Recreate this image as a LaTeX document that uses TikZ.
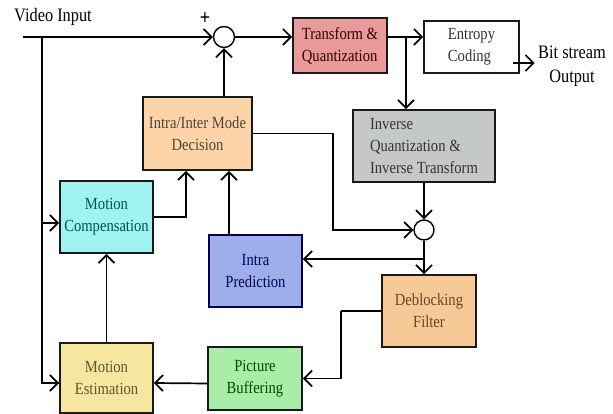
\documentclass[tikz,border=0pt]{standalone}
\usepackage{fontspec}
\setmainfont{Liberation Serif}[FakeStretch=0.86]
\usetikzlibrary{arrows.meta}

\definecolor{tqfill}{HTML}{E99A9B}
\definecolor{iqfill}{HTML}{C4C8C8}
\definecolor{mdtop}{HTML}{FDD4A8}
\definecolor{mdmid}{HTML}{FFF7C6}
\definecolor{mcfill}{HTML}{A0F2F0}
\definecolor{ipfill}{HTML}{9DAEEA}
\definecolor{dffill}{HTML}{F6C996}
\definecolor{pbfill}{HTML}{A8EEA8}
\definecolor{mefill}{HTML}{F6E6A0}

\begin{document}
\begin{tikzpicture}[x=1pt, y=-1pt,
    blk/.style={draw=black!90, line width=1.7pt, rectangle, align=center,
        font=\fontsize{17}{22}\selectfont, inner sep=2pt},
    arr/.style={line width=1.7pt, -{Straight Barb[length=8pt,width=16pt]}},
    ln/.style={line width=1.7pt},
    sumc/.style={draw, circle, line width=1.4pt, minimum size=21pt, inner sep=0pt, fill=white},
    lbl/.style={font=\fontsize{19}{24}\selectfont, align=center}]

\useasboundingbox (0,0) rectangle (613,414);

    % blocks
    \node[blk, fill=tqfill, text=black!60!red!50!black, align=left, minimum width=94pt, minimum height=55pt] (tq) at (340,45.5) {Transform \&\\Quantization};
    \node[blk, fill=white, text=black!80, align=left, minimum width=95pt, minimum height=52pt] (ec) at (471.5,47) {Entropy\\Coding};
    \node[blk, fill=iqfill, text=black!80, align=left, minimum width=142pt, minimum height=72pt] (iq) at (424,146) {Inverse\\Quantization \&\\Inverse Transform};
    \node[blk, top color=mdtop, middle color=mdmid, bottom color=mdtop, text=black!60!yellow!45!black, minimum width=109pt, minimum height=73pt] (md) at (197.5,133.5) {Intra/Inter Mode\\Decision};
    \node[blk, fill=mcfill, text=teal!65!black, minimum width=93pt, minimum height=72pt] (mc) at (106.5,217) {Motion\\Compensation};
    \node[blk, fill=ipfill, draw=blue!30!black, text=blue!35!black, minimum width=93pt, minimum height=72pt] (ip) at (255.5,271) {Intra\\Prediction};
    \node[blk, fill=dffill, text=brown!55!black, minimum width=94pt, minimum height=72pt] (df) at (429,311) {Deblocking\\Filter};
    \node[blk, fill=pbfill, text=green!30!black, minimum width=94pt, minimum height=63pt] (pb) at (255,378.5) {Picture\\Buffering};
    \node[blk, fill=mefill, text=olive!55!black, minimum width=93pt, minimum height=70pt] (me) at (106.5,378) {Motion\\Estimation};

    % adders
    \node[sumc] (sum1) at (224,37) {};
    \node[sumc, minimum size=20pt] (sum2) at (424,230) {};
    \node[font=\bfseries\fontsize{21}{21}\selectfont] (plus) at (205,19) {+};

    % labels
    \node[lbl] (vin) at (53,17) {Video Input};
    \node[lbl] (bitout) at (572,66) {Bit stream\\Output};

    % points
    \coordinate (in) at (23,37);
    \coordinate (split) at (42,37);
    \coordinate (br) at (406,37);
    \coordinate (br2) at (424,259);
    \coordinate (ecout) at (513,63);
    \coordinate (mdr) at (333,133.5);

    % forward path
    \draw[arr] (in) -- (sum1.west);
    \draw[arr] (sum1.east) -- (sum1 -| tq.west);
    \draw[arr] (tq.east |- sum1) -- (ec.west |- sum1);
    \draw[arr] (br) -- (br |- iq.north);
    \draw[arr] (ecout) -- (ecout -| bitout.west);

    % reconstruction
    \draw[arr] (iq.south) -- (sum2.north);
    \draw[arr] (sum2.south) -- (sum2 |- df.north);
    \draw[arr] (br2) -- (br2 -| ip.east);
    \draw[ln] (df.west) -- ++(-40,0) coordinate (dfl);
    \draw[arr] (dfl) |- (pb.east);
    \draw[arr] ([yshift=-5pt]pb.west) -- ([yshift=-5pt]me.east);

    % prediction
    \draw[arr] (me.north) -- (mc.south);
    \draw[ln] (split) |- ([yshift=-5pt]me.west);
    \draw[arr] (split |- me.west) ++(0,5) -- ([yshift=-5pt]me.west);
    \draw[arr] (split |- mc.west) ++(0,6) -- ([yshift=-6pt]mc.west);
    \draw[arr] (mc.east) -| ([xshift=-11.5pt]md.south);
    \draw[arr] ([xshift=-26.5pt]ip.north) -- ([xshift=-26.5pt]ip.north |- md.south);
    \draw[arr] (md.north -| sum1) -- (sum1.south);
    \draw[ln] (md.east) -- (mdr);
    \draw[arr] (mdr) |- (sum2.west);

\end{tikzpicture}
\end{document}
